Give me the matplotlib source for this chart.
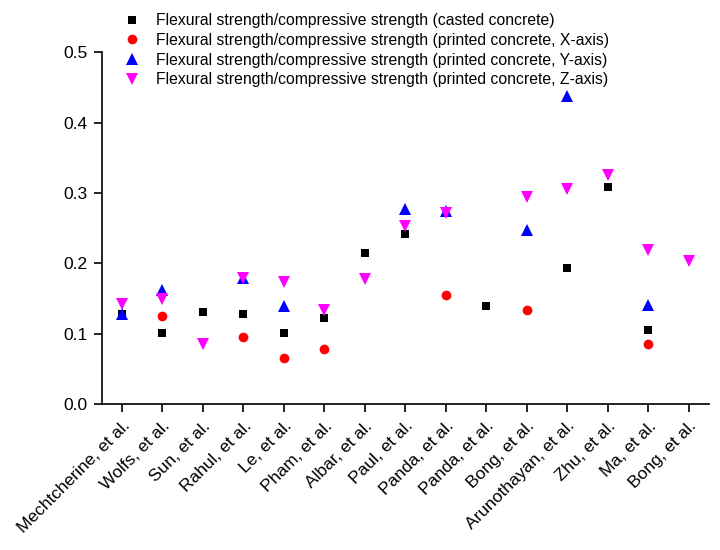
import numpy as np
import matplotlib
matplotlib.use("Agg")
import matplotlib.pyplot as plt

plt.rcParams['font.family'] = ['Liberation Sans', 'DejaVu Sans']

authors = ['Mechtcherine, et al.', 'Wolfs, et al.', 'Sun, et al.', 'Rahul, et al.',
           'Le, et al.', 'Pham, et al.', 'Albar, et al.', 'Paul, et al.',
           'Panda, et al.', 'Panda, et al.', 'Bong, et al.', 'Arunothayan, et al.',
           'Zhu, et al.', 'Ma, et al.', 'Bong, et al.']

nan = np.nan
casted = [0.128, 0.101, 0.131, 0.128, 0.101, 0.122, 0.215, 0.242,
          nan, 0.140, nan, 0.194, 0.308, 0.106, nan]
printed_x = [nan, 0.126, nan, 0.096, 0.066, 0.079, nan, nan,
             0.155, nan, 0.134, nan, nan, 0.086, nan]
printed_y = [0.128, 0.162, nan, 0.180, 0.139, nan, nan, 0.277,
             0.274, nan, 0.247, 0.438, nan, 0.141, nan]
printed_z = [0.142, 0.149, 0.086, 0.180, 0.173, 0.134, 0.178, 0.253,
             0.272, nan, 0.295, 0.306, 0.325, 0.219, 0.203]

labels = ['Flexural strength/compressive strength (casted concrete)',
          'Flexural strength/compressive strength (printed concrete, X-axis)',
          'Flexural strength/compressive strength (printed concrete, Y-axis)',
          'Flexural strength/compressive strength (printed concrete, Z-axis)']

x = np.arange(len(authors))

fig = plt.figure(figsize=(7.2, 5.5), dpi=100)
ax = fig.add_axes([0.1413, 0.2649, 0.8434, 0.6401])

ax.plot(x, casted, 's', color='black', ms=6.2, mew=0, label=labels[0])
ax.plot(x, printed_x, 'o', color='red', ms=7, mew=0, label=labels[1])
ax.plot(x, printed_y, '^', color='blue', ms=8.2, mew=0, label=labels[2])
ax.plot(x, printed_z, 'v', color='magenta', ms=8.2, mew=0, label=labels[3])

ax.set_xlim(-0.5, len(authors) - 0.5)
ax.set_ylim(0, 0.5)
ax.set_yticks([0.0, 0.1, 0.2, 0.3, 0.4, 0.5])
ax.set_yticklabels(['0.0', '0.1', '0.2', '0.3', '0.4', '0.5'])
ax.set_xticks(x)
ax.set_xticklabels(authors, rotation=45, ha='right', rotation_mode='anchor')

for s in ['top', 'right']:
    ax.spines[s].set_visible(False)
for s in ['left', 'bottom']:
    ax.spines[s].set_linewidth(1.2)
ax.tick_params(direction='out', length=6, width=1.2, labelsize=12.5, pad=4)

ax.legend(loc='upper left', bbox_to_anchor=(0.1725, 0.976), bbox_transform=fig.transFigure,
          frameon=False, fontsize=11.3, handletextpad=1.0, labelspacing=0.3,
          borderaxespad=0, borderpad=0, handlelength=1.0)

fig.savefig('out.png', dpi=100)
